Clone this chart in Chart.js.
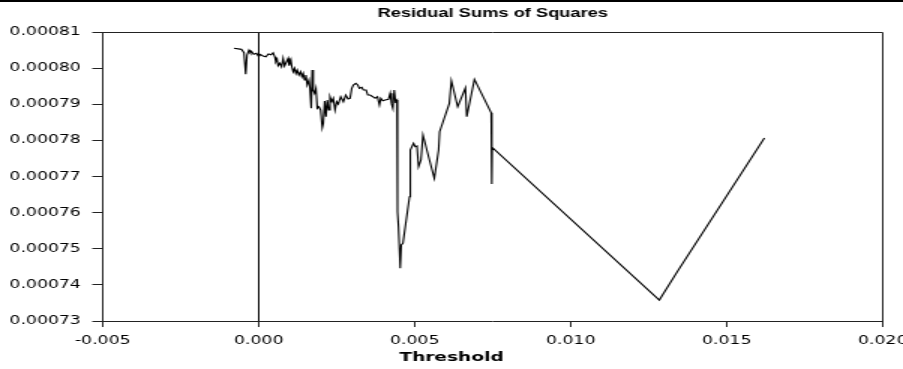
<!DOCTYPE html>
<html>
<head>
<meta charset="utf-8">
<script src="https://cdn.jsdelivr.net/npm/chart.js@4/dist/chart.umd.min.js"></script>
<style>
  html, body { margin: 0; padding: 0; background: #fff; overflow: hidden; }
  canvas { display: block; }
</style>
</head>
<body>
<canvas id="rss" width="602" height="369" style="width:903px;height:369px"></canvas>
<script>
// Threshold values tried in the search
const thresholds = [
  -0.000794, -0.000556, -0.000473, -0.000418, -0.000376, -0.000312, -0.000267, -0.000225, -0.000161, -0.000074,
  0.000000, 0.000055, 0.000138, 0.000225, 0.000312, 0.000395, 0.000460, 0.000514, 0.000547, 0.000588,
  0.000621, 0.000675, 0.000730, 0.000781, 0.000826, 0.000891, 0.000942, 0.000974, 0.001029, 0.001061,
  0.001103, 0.001148, 0.001190, 0.001232, 0.001286, 0.001341, 0.001383, 0.001424, 0.001469, 0.001511,
  0.001553, 0.001608, 0.001640, 0.001682, 0.001714, 0.001746, 0.001791, 0.001833, 0.001875, 0.001929,
  0.001984, 0.002035, 0.002068, 0.002113, 0.002154, 0.002196, 0.002241, 0.002283, 0.002338, 0.002389,
  0.002444, 0.002498, 0.002550, 0.002627, 0.002711, 0.002788, 0.002862, 0.002926, 0.002981, 0.003032,
  0.003109, 0.003174, 0.003225, 0.003302, 0.003354, 0.003441, 0.003495, 0.003569, 0.003656, 0.003730,
  0.003804, 0.003868, 0.003913, 0.003977, 0.004051, 0.004158, 0.004212, 0.004254, 0.004299, 0.004341,
  0.004383, 0.004428, 0.004447, 0.004479, 0.004534, 0.004566, 0.004621, 0.004833, 0.004836, 0.004878,
  0.004961, 0.005016, 0.005071, 0.005122, 0.005199, 0.005264, 0.005444, 0.005627, 0.005765, 0.005797,
  0.006109, 0.006174, 0.006376, 0.006624, 0.006666, 0.006913, 0.007450, 0.007470, 0.007482, 0.012839,
  0.013408, 0.016206
];

// Residual sum of squares at each threshold
const rss = [
  0.00080549, 0.00080521, 0.00080427, 0.00079829, 0.00080363, 0.00080502, 0.00080427, 0.00080455, 0.00080383, 0.00080410,
  0.00080316, 0.00080383, 0.00080336, 0.00080316, 0.00080391, 0.00080372, 0.00080427, 0.00080316, 0.00080178, 0.00080244,
  0.00080067, 0.00080134, 0.00080039, 0.00080272, 0.00080059, 0.00080178, 0.00080272, 0.00080067, 0.00080225, 0.00080039,
  0.00079901, 0.00079995, 0.00079857, 0.00079948, 0.00079810, 0.00079901, 0.00079763, 0.00079857, 0.00079671, 0.00079810,
  0.00079533, 0.00079671, 0.00079442, 0.00078888, 0.00079948, 0.00079394, 0.00079303, 0.00079442, 0.00078888, 0.00078932,
  0.00078841, 0.00078351, 0.00078473, 0.00079090, 0.00078655, 0.00079118, 0.00078841, 0.00079209, 0.00079071, 0.00079165,
  0.00078841, 0.00079071, 0.00079007, 0.00079209, 0.00079071, 0.00079256, 0.00079145, 0.00079165, 0.00079442, 0.00079533,
  0.00079580, 0.00079533, 0.00079442, 0.00079469, 0.00079394, 0.00079394, 0.00079256, 0.00079256, 0.00079209, 0.00079165,
  0.00079209, 0.00078979, 0.00079165, 0.00079098, 0.00079118, 0.00079137, 0.00079303, 0.00079026, 0.00078888, 0.00079394,
  0.00079071, 0.00079118, 0.00076026, 0.00075610, 0.00074459, 0.00075104, 0.00075151, 0.00076441, 0.00077271, 0.00077734,
  0.00077919, 0.00077825, 0.00077844, 0.00077271, 0.00077457, 0.00078149, 0.00077548, 0.00076950, 0.00077734, 0.00078240,
  0.00079026, 0.00079652, 0.00078932, 0.00079450, 0.00078655, 0.00079691, 0.00078766, 0.00076792, 0.00077808, 0.00073581,
  0.00074356, 0.00078066
];

// Axis ranges and tick spacing
const xRange = [-0.005, 0.020];
const xStep = 0.005;
const yRange = [0.00073, 0.00081];
const yStep = 0.00001;

// Reference line at a zero threshold
const zeroLineX = [0, 0];
const zeroLineY = [0.00073, 0.00081];

const AXIS_COLOR = '#222';

// Closes the plot box on the top and right, and draws the rule across the top of the page
const frame = {
  id: 'frame',
  afterDraw(chart) {
    const { ctx, chartArea: a } = chart;
    ctx.save();
    ctx.fillStyle = '#000';
    ctx.fillRect(0, 0, chart.width, 2);
    ctx.strokeStyle = AXIS_COLOR;
    ctx.lineWidth = 1;
    ctx.beginPath();
    ctx.moveTo(a.left, Math.round(a.top) + 0.5);
    ctx.lineTo(Math.floor(a.right) + 0.5, Math.round(a.top) + 0.5);
    ctx.lineTo(Math.floor(a.right) + 0.5, a.bottom);
    ctx.stroke();
    ctx.restore();
  }
};

new Chart(document.getElementById('rss'), {
  type: 'line',
  data: {
    datasets: [
      {
        data: thresholds.map((t, i) => ({ x: t, y: rss[i] })),
        borderColor: '#000',
        borderWidth: 1.1,
        pointRadius: 0,
        tension: 0,
        fill: false
      },
      {
        data: zeroLineX.map((t, i) => ({ x: t, y: zeroLineY[i] })),
        borderColor: '#000',
        borderWidth: 1,
        pointRadius: 0,
        fill: false
      }
    ]
  },
  options: {
    responsive: false,
    animation: false,
    devicePixelRatio: 1,
    layout: { padding: 0 },
    plugins: {
      legend: { display: false },
      tooltip: { enabled: false },
      title: {
        display: true,
        text: 'Residual Sums of Squares',
        fullSize: false,
        color: '#000',
        font: { family: "'Liberation Sans', Arial, sans-serif", size: 12.2, weight: 'bold', lineHeight: 1.2 },
        padding: { top: 6, bottom: 11.4 }
      },
      subtitle: {
        display: true,
        position: 'bottom',
        text: 'Threshold',
        color: '#000',
        font: { family: "'DejaVu Sans', sans-serif", size: 12.4, weight: 'bold', lineHeight: 1.2 },
        padding: { top: 0, bottom: 4 }
      }
    },
    scales: {
      x: {
        type: 'linear',
        min: xRange[0],
        max: xRange[1],
        ticks: {
          stepSize: xStep,
          autoSkip: false,
          maxRotation: 0,
          color: '#000',
          font: { family: "'DejaVu Sans', sans-serif", size: 11.5 },
          padding: 7,
          callback: v => v.toFixed(3)
        },
        grid: { drawOnChartArea: false, drawTicks: true, tickLength: 6, color: AXIS_COLOR, lineWidth: 1 },
        border: { display: true, color: AXIS_COLOR, width: 1 },
        afterFit(s) { s.height = 29.1; s.paddingLeft = 0; s.paddingRight = 13.5; }
      },
      y: {
        type: 'linear',
        min: yRange[0],
        max: yRange[1],
        ticks: {
          stepSize: yStep,
          color: '#000',
          font: { family: "'DejaVu Sans', sans-serif", size: 11.5 },
          padding: 7.6,
          callback: v => v.toFixed(5)
        },
        grid: { drawOnChartArea: false, drawTicks: true, tickLength: 7, color: AXIS_COLOR, lineWidth: 1 },
        border: { display: true, color: AXIS_COLOR, width: 1 },
        afterFit(s) { s.width = 68.5; s.paddingTop = 0; s.paddingBottom = 0; }
      }
    }
  },
  plugins: [frame]
});
</script>
</body>
</html>
